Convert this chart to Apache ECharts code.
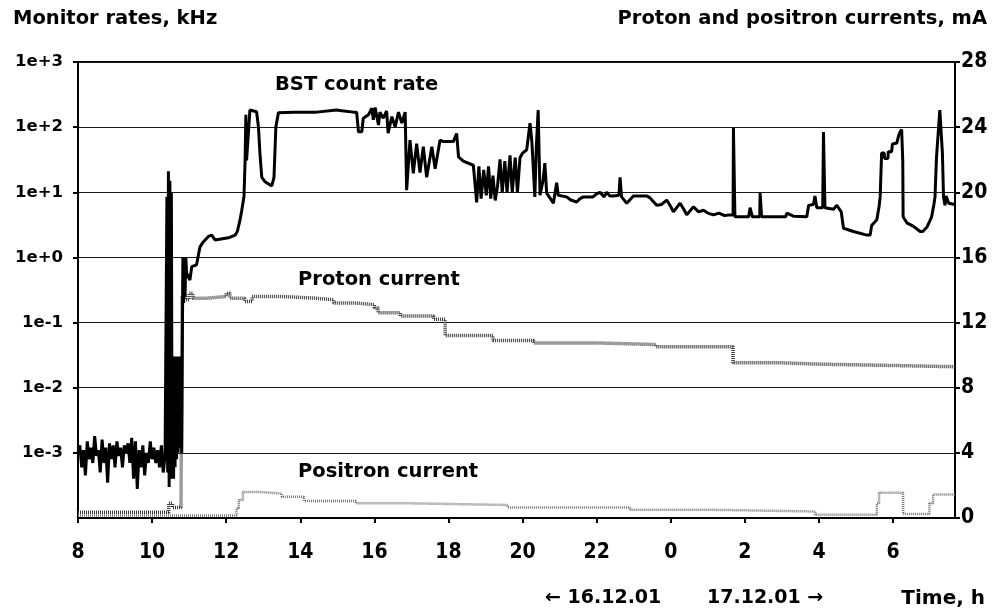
<!DOCTYPE html>
<html>
<head>
<meta charset="utf-8">
<script src="https://cdn.jsdelivr.net/npm/echarts@6/dist/echarts.min.js"></script>
<style>
  html, body { margin: 0; padding: 0; background: #fff; }
  #chart { width: 998px; height: 610px; }
</style>
</head>
<body>
<div id="chart"></div>
<script>
// Time axis in hours since midnight of 16.12.01 (values above 24 belong to 17.12.01)
const timeTicks = [8, 10, 12, 14, 16, 18, 20, 22, 24, 26, 28, 30];
const timeMin = 8;
const timeMax = 31.67;

// Monitor rate range (kHz, logarithmic) and current range (mA)
const rateMin = 1e-4;
const rateMax = 1e3;
const currentMin = 0;
const currentMax = 28;
const currentStep = 4;

// BST count rate, kHz: [hour, rate]
const bstCountRate = [
  [8.00, 1.0e-3], [8.05, 1.3e-3], [8.10, 6e-4], [8.15, 1.1e-3], [8.20, 4.5e-4], [8.25, 1.5e-3],
  [8.30, 8e-4], [8.35, 1.2e-3], [8.40, 7e-4], [8.45, 1.8e-3], [8.50, 9e-4], [8.55, 1.1e-3],
  [8.60, 5e-4], [8.65, 1.6e-3], [8.70, 7e-4], [8.75, 1.2e-3], [8.80, 3.5e-4], [8.85, 1.4e-3],
  [8.90, 8e-4], [8.95, 1.3e-3], [9.00, 6e-4], [9.05, 1.5e-3], [9.10, 9e-4], [9.15, 1.2e-3],
  [9.20, 6e-4], [9.25, 1.3e-3], [9.30, 1.0e-3], [9.35, 1.4e-3], [9.40, 7e-4], [9.45, 1.7e-3],
  [9.50, 4e-4], [9.55, 1.5e-3], [9.60, 2.8e-4], [9.65, 1.1e-3], [9.70, 6e-4], [9.75, 1.3e-3],
  [9.80, 4.5e-4], [9.85, 1.0e-3], [9.90, 7e-4], [9.95, 1.5e-3], [10.00, 8e-4], [10.05, 1.2e-3],
  [10.10, 7e-4], [10.15, 1.1e-3], [10.20, 6e-4], [10.25, 1.3e-3], [10.30, 5e-4], [10.35, 9e-4],
  [10.38, 8.5e-4], [10.40, 8.5], [10.42, 5e-4], [10.44, 21], [10.46, 3e-4], [10.48, 15],
  [10.50, 4e-4], [10.52, 10], [10.54, 5e-4], [10.56, 0.03], [10.58, 4e-4], [10.60, 0.03],
  [10.62, 6e-4], [10.64, 0.025], [10.66, 8e-4], [10.68, 0.03], [10.70, 1e-3], [10.72, 0.02],
  [10.74, 1.2e-3], [10.76, 0.03], [10.80, 1e-3], [10.83, 1.0], [10.85, 0.2], [10.87, 0.9],
  [10.89, 0.25], [10.91, 1.0], [10.93, 0.58], [11.02, 0.45], [11.07, 0.72], [11.20, 0.77],
  [11.29, 1.44], [11.38, 1.73], [11.52, 2.1], [11.61, 2.2], [11.70, 1.85], [12.06, 2.0],
  [12.24, 2.2], [12.30, 2.5], [12.37, 3.7], [12.42, 5.3], [12.48, 8.6], [12.51, 31],
  [12.53, 155], [12.55, 31], [12.60, 31], [12.64, 183], [12.82, 172], [12.87, 101],
  [12.91, 40], [12.96, 17], [13.05, 14.5], [13.23, 12.5], [13.29, 17], [13.34, 101],
  [13.41, 167], [13.81, 170], [13.86, 160], [13.90, 170], [14.44, 170], [14.49, 177],
  [14.98, 183], [15.12, 178], [15.43, 170], [15.52, 170], [15.57, 85], [15.66, 85],
  [15.70, 137], [15.84, 155], [15.93, 195], [15.97, 130], [16.02, 200], [16.11, 108],
  [16.15, 170], [16.24, 137], [16.33, 177], [16.37, 81], [16.47, 145], [16.56, 101],
  [16.65, 170], [16.74, 115], [16.83, 170], [16.87, 10.8], [16.96, 63], [17.05, 19.5],
  [17.14, 56], [17.23, 20], [17.32, 50], [17.41, 17], [17.55, 50], [17.64, 23],
  [17.77, 63], [17.86, 60], [18.13, 60], [18.22, 80], [18.27, 35], [18.40, 30],
  [18.67, 26], [18.76, 7], [18.82, 25], [18.88, 8], [18.95, 22], [19.02, 9],
  [19.08, 25], [19.14, 8], [19.20, 18], [19.26, 7.5], [19.32, 12], [19.39, 32],
  [19.45, 10], [19.52, 30], [19.58, 10], [19.66, 37], [19.72, 10], [19.80, 34],
  [19.86, 10], [19.93, 34], [20.00, 40], [20.11, 45], [20.20, 115], [20.25, 60],
  [20.28, 63], [20.33, 8.5], [20.37, 50], [20.42, 183], [20.47, 9], [20.55, 15],
  [20.60, 28], [20.65, 9.7], [20.75, 8], [20.83, 6.8], [20.88, 7], [20.92, 14],
  [20.96, 9], [21.01, 9.2], [21.19, 8.5], [21.30, 7.6], [21.46, 7.1], [21.55, 8],
  [21.64, 8.5], [21.90, 8.5], [22.00, 9.5], [22.09, 10], [22.20, 8.5], [22.27, 10],
  [22.35, 8.8], [22.44, 8.8], [22.60, 9], [22.63, 17], [22.67, 8.5], [22.81, 6.8],
  [22.99, 8.8], [23.35, 8.8], [23.44, 8.2], [23.62, 6.3], [23.75, 6.5], [23.89, 7.6],
  [24.00, 6], [24.07, 5], [24.25, 6.8], [24.35, 5.5], [24.43, 4.5], [24.61, 6],
  [24.75, 5], [24.88, 5.3], [25.00, 4.8], [25.15, 4.5], [25.30, 4.8], [25.45, 4.4],
  [25.60, 4.5], [25.68, 4.5], [25.69, 97], [25.72, 97], [25.73, 4.2], [26.10, 4.2],
  [26.14, 5.8], [26.20, 4.2], [26.40, 4.2], [26.41, 9.7], [26.45, 4.2], [27.10, 4.2],
  [27.13, 4.8], [27.31, 4.3], [27.67, 4.2], [27.72, 6.3], [27.85, 6.5], [27.89, 8.8],
  [27.94, 5.8], [28.10, 5.8], [28.12, 84], [28.16, 5.8], [28.39, 5.5], [28.48, 6.3],
  [28.60, 5], [28.66, 2.8], [28.93, 2.5], [29.29, 2.2], [29.38, 2.2], [29.42, 3.1],
  [29.56, 3.8], [29.62, 6], [29.65, 8.5], [29.69, 40], [29.76, 40], [29.77, 33],
  [29.86, 33], [29.87, 42], [29.96, 42], [29.98, 55], [30.10, 57], [30.15, 75],
  [30.19, 85], [30.23, 92], [30.26, 30], [30.27, 4.2], [30.37, 3.4], [30.55, 3.0],
  [30.73, 2.5], [30.80, 2.5], [30.91, 2.9], [31.04, 4.2], [31.10, 6.5], [31.13, 8.5],
  [31.17, 34], [31.22, 35], [31.26, 183], [31.31, 175], [31.33, 40], [31.36, 8.5],
  [31.40, 6.3], [31.43, 8.8], [31.48, 8.8], [31.50, 6.8], [31.67, 6.5]
];

// Proton current, mA: [hour, current], each value held until the next point
const protonCurrent = [
  [8.00, 0.35], [10.45, 0.9], [10.55, 0.65], [10.78, 0.65], [10.81, 13.6], [10.90, 13.4],
  [11.00, 13.8], [11.10, 13.5], [11.50, 13.6], [12.00, 13.8], [12.10, 13.5], [12.50, 13.3],
  [12.70, 13.6], [13.50, 13.5], [14.40, 13.4], [14.90, 13.2], [15.50, 13.1], [16.00, 12.9],
  [16.10, 12.6], [16.70, 12.4], [17.60, 12.2], [17.91, 11.2], [19.20, 10.9], [20.30, 10.75],
  [22.00, 10.65], [23.60, 10.52], [25.68, 9.54], [26.89, 9.45], [27.95, 9.37], [29.86, 9.29],
  [31.67, 9.29]
];

// Positron current, mA: [hour, current], each value held until the next point
const positronCurrent = [
  [8.00, 0.15], [12.20, 0.15], [12.28, 0.6], [12.34, 1.1], [12.45, 1.6], [12.90, 1.5],
  [13.50, 1.3], [14.10, 1.05], [15.50, 0.9], [17.00, 0.8], [19.60, 0.65], [22.90, 0.5],
  [25.20, 0.4], [27.90, 0.2], [29.50, 0.2], [29.56, 0.9], [29.62, 1.55], [30.27, 0.25],
  [30.91, 0.25], [30.98, 0.9], [31.08, 1.45], [31.67, 1.45]
];

const titleFont = "'DejaVu Sans', Verdana, sans-serif";
const tickFont = "'Liberation Sans Narrow', 'Arial Narrow', 'DejaVu Sans Condensed', sans-serif";

function rateLabel(v) {
  const e = Math.round(Math.log10(v));
  return '1e' + (e >= 0 ? '+' : '-') + Math.abs(e);
}

const chart = echarts.init(document.getElementById('chart'), null, { renderer: 'canvas' });

chart.setOption({
  animation: false,
  backgroundColor: '#ffffff',
  grid: {
    left: 78, right: 43, top: 62, bottom: 92,
    show: true, borderColor: '#000', borderWidth: 2, backgroundColor: 'transparent'
  },
  xAxis: {
    type: 'value',
    min: timeMin,
    max: timeMax,
    interval: 2,
    axisLine: { show: true, lineStyle: { color: '#000', width: 2 } },
    axisTick: {
      show: true, inside: false, length: 5,
      lineStyle: { color: '#000', width: 2 },
      customValues: timeTicks
    },
    axisLabel: {
      color: '#000', fontFamily: tickFont, fontWeight: 'bold', fontSize: 21, margin: 24,
      customValues: timeTicks,
      formatter: v => String(Math.round(v) % 24)
    },
    splitLine: { show: false }
  },
  yAxis: [
    {
      type: 'log',
      logBase: 10,
      min: rateMin,
      max: rateMax,
      splitNumber: 7,
      axisLine: { show: true, lineStyle: { color: '#000', width: 2 } },
      axisTick: { show: true, inside: false, length: 5, lineStyle: { color: '#000', width: 2 } },
      axisLabel: {
        color: '#000', fontFamily: titleFont, fontWeight: 'bold', fontSize: 16.5, margin: 15,
        showMinLabel: false,
        formatter: rateLabel
      },
      splitLine: { show: true, lineStyle: { color: '#1a1a1a', width: 1.2 } }
    },
    {
      type: 'value',
      position: 'right',
      min: currentMin,
      max: currentMax,
      interval: currentStep,
      axisLine: { show: true, lineStyle: { color: '#000', width: 2 } },
      axisTick: { show: true, inside: false, length: 5, lineStyle: { color: '#000', width: 2 } },
      axisLabel: {
        color: '#000', fontFamily: tickFont, fontWeight: 'bold', fontSize: 21, margin: 6
      },
      splitLine: { show: false }
    }
  ],
  series: [
    {
      name: 'Positron current',
      type: 'line',
      yAxisIndex: 1,
      step: 'end',
      symbol: 'none',
      data: positronCurrent,
      lineStyle: { color: '#777', width: 2.5, type: [1, 1] },
      z: 2
    },
    {
      name: 'Proton current',
      type: 'line',
      yAxisIndex: 1,
      step: 'end',
      symbol: 'none',
      data: protonCurrent,
      lineStyle: { color: '#3a3a3a', width: 3.5, type: [1, 1] },
      z: 3
    },
    {
      name: 'BST count rate',
      type: 'line',
      yAxisIndex: 0,
      symbol: 'none',
      data: bstCountRate,
      lineStyle: { color: '#000', width: 3 },
      z: 4
    }
  ],
  graphic: [
    { type: 'text', left: 13, top: 9, style: { text: 'Monitor rates, kHz', font: "bold 19.5px " + titleFont, fill: '#000' } },
    { type: 'text', right: 11, top: 9, style: { text: 'Proton and positron currents, mA', font: "bold 19.5px " + titleFont, fill: '#000' } },
    { type: 'text', left: 275, top: 75, style: { text: 'BST count rate', font: "bold 19.5px " + titleFont, fill: '#000' } },
    { type: 'text', left: 298, top: 270, style: { text: 'Proton current', font: "bold 19.5px " + titleFont, fill: '#000' } },
    { type: 'text', left: 298, top: 462, style: { text: 'Positron current', font: "bold 19.5px " + titleFont, fill: '#000' } },
    { type: 'text', left: 545, top: 589, style: { text: '\u2190 16.12.01', font: "bold 19px " + titleFont, fill: '#000' } },
    { type: 'text', left: 707, top: 589, style: { text: '17.12.01 \u2192', font: "bold 19px " + titleFont, fill: '#000' } },
    { type: 'text', right: 13, top: 589, style: { text: 'Time, h', font: "bold 20px " + titleFont, fill: '#000' } }
  ]
});
</script>
</body>
</html>
